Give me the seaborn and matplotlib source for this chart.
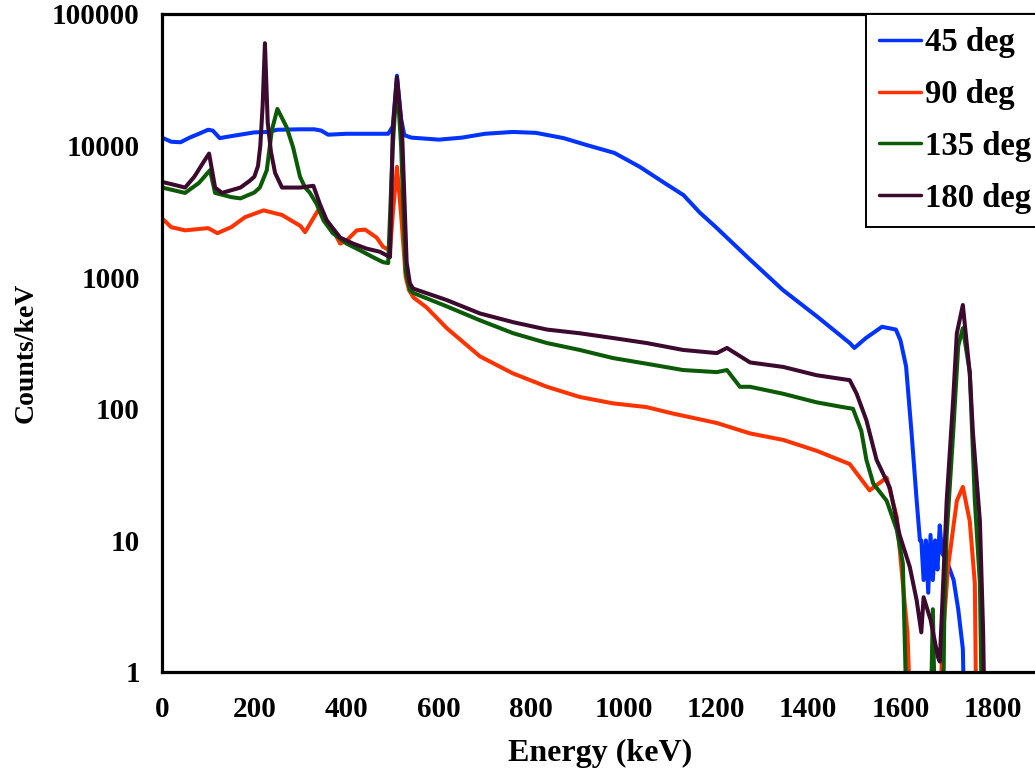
import matplotlib
matplotlib.use("Agg")
import matplotlib.pyplot as plt
import seaborn as sns
import numpy as np
from matplotlib.ticker import MultipleLocator, LogLocator, NullFormatter

# ---------------- data ----------------
e_45 = [0, 20, 40, 60, 80, 100, 110, 125, 150, 200, 230, 250, 300, 330, 345, 360, 400, 450, 490,
        500, 509, 518, 525, 540, 600, 650, 700, 760, 810, 870, 920, 980, 1035, 1085, 1130, 1165,
        1200, 1275, 1345, 1420, 1490, 1500, 1525, 1560, 1590, 1600, 1612, 1624, 1635, 1642,
        1645, 1650, 1655, 1660, 1665, 1670, 1675, 1680, 1685, 1690, 1700, 1715, 1725, 1735, 1742]
c_45 = [11500, 10700, 10600, 11500, 12300, 13200, 13000, 11400, 11800, 12600, 12700, 13200, 13300,
        13300, 13000, 12100, 12300, 12300, 12300, 14000, 34000, 16000, 12000, 11500, 11100, 11500,
        12300, 12700, 12500, 11400, 10100, 8800, 6900, 5300, 4200, 3100, 2400, 1350, 800, 500,
        316, 290, 345, 420, 400, 330, 210, 65, 20, 10, 10, 5, 10, 4, 11, 5, 10, 6, 13, 8, 7, 5,
        3, 1.5, 0.1]

e_90 = [0, 20, 50, 100, 120, 150, 180, 220, 260, 300, 310, 338, 357, 371, 386, 400, 422, 440, 465,
        479, 494, 500, 509, 518, 528, 535, 545, 573, 617, 689, 760, 834, 905, 977, 1050, 1107,
        1202, 1274, 1346, 1418, 1490, 1533, 1570, 1592, 1605, 1615, 1628,
        1681, 1690, 1703, 1722, 1735, 1750, 1761, 1766]
c_90 = [2800, 2400, 2270, 2360, 2160, 2400, 2860, 3220, 2970, 2450, 2200, 3220, 2700, 2270, 1800,
        1900, 2270, 2300, 2000, 1700, 1600, 3000, 6900, 3000, 1000, 800, 700, 590, 410, 250, 186,
        147, 123, 110, 103, 92, 78, 65, 58, 48, 38, 24, 30, 15, 4.7, 2, 0.1,
        0.1, 1.5, 6.3, 20, 25.5, 14, 4.7, 0.1]

e_135 = [0, 50, 80, 104, 115, 150, 170, 200, 212, 227, 238, 250, 270, 284, 299, 310, 320, 335,
         350, 370, 400, 429, 457, 479, 490, 500, 509, 518, 528, 537, 544, 617, 689, 761, 834,
         905, 977, 1050, 1129, 1202, 1224, 1252, 1274, 1346, 1418, 1475, 1497, 1515, 1526, 1541,
         1570, 1592, 1605, 1618, 1662, 1670, 1678, 1690, 1695, 1700, 1714, 1725, 1735, 1750,
         1761, 1772, 1779]
c_135 = [4800, 4370, 5200, 6500, 4370, 4060, 3970, 4400, 4800, 6500, 13100, 19000, 13800, 9700,
         5800, 4800, 4400, 3600, 2700, 2160, 1800, 1600, 1420, 1300, 1280, 10000, 31000, 10000,
         1100, 800, 760, 600, 470, 375, 316, 280, 243, 220, 197, 190, 197, 147, 147, 130, 112,
         103, 100, 68, 41, 27, 20, 12, 6.7, 0.1, 0.1, 3, 0.1, 0.1, 3, 11, 65, 300, 410, 190,
         20, 4.7, 0.1]

e_180 = [0, 30, 50, 70, 90, 102, 115, 130, 170, 190, 200, 208, 213, 218, 223, 229, 236, 245, 260,
         300, 328, 342, 357, 386, 414, 443, 472, 494, 500, 509, 520, 530, 537, 544, 617, 689,
         761, 834, 905, 977, 1050, 1129, 1202, 1224, 1274, 1346, 1418, 1490, 1505, 1526, 1548,
         1577, 1598, 1620, 1635, 1645, 1650, 1665, 1681, 1685, 1690, 1700, 1714, 1722, 1735,
         1750, 1757, 1772, 1779, 1785]
c_180 = [5300, 5000, 4800, 5800, 7500, 8700, 4800, 4370, 4800, 5400, 5800, 7000, 10000, 20000,
         60000, 15000, 9000, 6200, 4800, 4800, 4950, 3600, 2700, 2000, 1800, 1650, 1560, 1420,
         13000, 33000, 13000, 1300, 900, 820, 670, 530, 455, 400, 375, 345, 316, 280, 265, 290,
         225, 208, 180, 165, 130, 82, 41, 25, 11, 6.3, 3.5, 2, 3.7, 2.5, 1.3, 1.2, 3, 20, 117,
         375, 615, 186, 65, 14, 2, 0.1]

series_names = ["45 deg", "90 deg", "135 deg", "180 deg"]
series_colors = ["#0033FF", "#FF3300", "#0B5A05", "#3C0A2E"]

x_ticks = [0, 200, 400, 600, 800, 1000, 1200, 1400, 1600, 1800]
y_ticks = [1, 10, 100, 1000, 10000, 100000]
y_tick_labels = ["1", "10", "100", "1000", "10000", "100000"]

# ---------------- figure ----------------
sns.set_style("white")
plt.rcParams["font.family"] = ["Liberation Serif", "DejaVu Serif"]
plt.rcParams["font.weight"] = "bold"
for k in ["text.color", "axes.labelcolor", "xtick.color", "ytick.color", "axes.edgecolor"]:
    plt.rcParams[k] = "black"

W, H = 1035, 776
fig = plt.figure(figsize=(W / 100, H / 100), dpi=100)
ax = fig.add_axes([162 / W, 1 - 672 / H, (1039 - 162) / W, (672 - 14) / H])

for e, c, name, col in zip([e_45, e_90, e_135, e_180], [c_45, c_90, c_135, c_180],
                           series_names, series_colors):
    sns.lineplot(x=e, y=c, ax=ax, color=col, linewidth=2.9, label=name,
                 estimator=None, sort=False)

ax.set_yscale("log")
ax.set_ylim(1, 100000)
ax.set_xlim(0, 1900)

ax.set_xticks(x_ticks)
ax.set_xticklabels([str(t) for t in x_ticks])
ax.xaxis.set_minor_locator(MultipleLocator(40))
ax.set_yticks(y_ticks)
ax.set_yticklabels(y_tick_labels)
ax.yaxis.set_minor_locator(LogLocator(base=10, subs=np.arange(2, 10)))
ax.yaxis.set_minor_formatter(NullFormatter())

fs = 21
ax.tick_params(axis="both", which="major", direction="in", length=8, width=2,
               labelsize=fs, colors="black")
ax.tick_params(axis="x", which="major", pad=17)
ax.tick_params(axis="y", which="major", pad=16)
ax.tick_params(axis="both", which="minor", direction="in", length=5.5, width=2,
               colors="black")
ax.tick_params(top=False, right=False, which="both")
for lab in ax.get_xticklabels() + ax.get_yticklabels():
    lab.set_fontweight("bold")
    lab.set_color("black")

for s in ax.spines.values():
    s.set_linewidth(2.3)
    s.set_color("black")

ax.set_xlabel("Energy (keV)", fontsize=23, fontweight="bold", labelpad=12, color="black")
ax.set_ylabel("Counts/keV", fontsize=20, fontweight="bold", color="black")
ax.yaxis.set_label_coords(-0.141, 0.485)

leg = ax.legend(loc="upper left", bbox_to_anchor=(866 / W, 1 - 14 / H),
                bbox_transform=fig.transFigure, borderaxespad=0,
                prop={"family": "Liberation Serif", "weight": "bold", "size": 23.5},
                handlelength=1.3, handletextpad=0.1, borderpad=0.4,
                labelspacing=0.64, fancybox=False, framealpha=1, edgecolor="black")
leg.get_frame().set_linewidth(1.4)
for h in leg.get_lines():
    h.set_linewidth(2.5)
for t in leg.get_texts():
    t.set_color("black")

fig.savefig("out.png", dpi=100)
